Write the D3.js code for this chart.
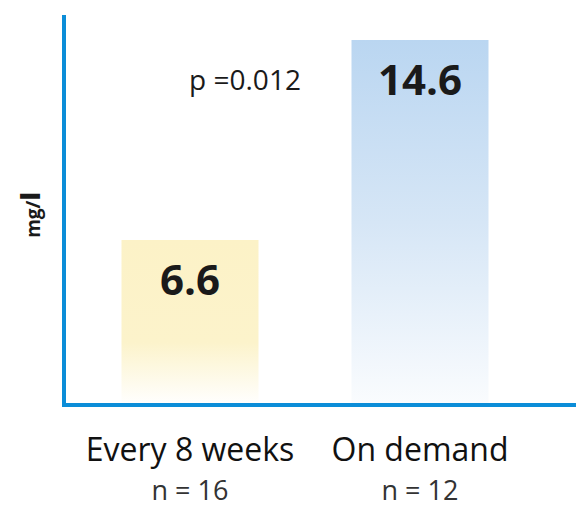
<!DOCTYPE html>
<html>
<head>
<meta charset="utf-8">
<script src="https://cdn.jsdelivr.net/npm/d3@7"></script>
<style>
  body { margin: 0; background: #fff; }
  text { font-family: "Open Sans", sans-serif; fill: #1a1a1a; }
</style>
</head>
<body>
<svg id="chart"></svg>
<script>
const categories = ["Every 8 weeks", "On demand"];
const sizes = ["n = 16", "n = 12"];
const values = [6.6, 14.6];
const valueLabels = ["6.6", "14.6"];
const pLabel = "p =0.012";

const width = 576, height = 507;
const base = 405;

const svg = d3.select("#chart")
    .attr("width", width)
    .attr("height", height);

const defs = svg.append("defs");
const yellow = defs.append("linearGradient").attr("id", "g0")
    .attr("x1", 0).attr("y1", 0).attr("x2", 0).attr("y2", 1);
yellow.append("stop").attr("offset", "0%").attr("stop-color", "#fcf2c7");
yellow.append("stop").attr("offset", "62%").attr("stop-color", "#fcf3cb");
yellow.append("stop").attr("offset", "100%").attr("stop-color", "#ffffff");

const blue = defs.append("linearGradient").attr("id", "g1")
    .attr("x1", 0).attr("y1", 0).attr("x2", 0).attr("y2", 1);
blue.append("stop").attr("offset", "0%").attr("stop-color", "#bad6f1");
blue.append("stop").attr("offset", "50%").attr("stop-color", "#d6e6f6");
blue.append("stop").attr("offset", "100%").attr("stop-color", "#fafcfe");

const x = d3.scalePoint()
    .domain(categories)
    .range([75, 535])
    .padding(0.5);

const y = d3.scaleLinear()
    .domain([0, 14.6])
    .range([base, 40]);

const barW = 137;

svg.selectAll(".bar")
    .data(values)
    .enter().append("rect")
    .attr("class", "bar")
    .attr("x", (d, i) => x(categories[i]) - barW / 2)
    .attr("y", d => y(d))
    .attr("width", barW)
    .attr("height", d => base - y(d))
    .attr("fill", (d, i) => "url(#g" + i + ")");

svg.selectAll(".val")
    .data(values)
    .enter().append("text")
    .attr("class", "val")
    .attr("x", (d, i) => x(categories[i]))
    .attr("y", d => y(d) + 55)
    .attr("text-anchor", "middle")
    .style("font-size", "42px")
    .style("font-weight", "700")
    .text((d, i) => valueLabels[i]);

// axes
const xAxis = d3.axisBottom(x).tickSize(0).tickFormat("");
svg.append("g")
    .attr("transform", "translate(0," + base + ")")
    .call(xAxis)
    .call(g => g.select(".domain")
        .attr("d", "M62,0H576")
        .attr("stroke", "#0b8dd8")
        .attr("stroke-width", 4));

const yAxis = d3.axisLeft(y).tickSize(0).tickFormat("");
svg.append("g")
    .attr("transform", "translate(64,0)")
    .call(yAxis)
    .call(g => g.select(".domain")
        .attr("d", "M0,15V" + (base + 2))
        .attr("stroke", "#0b8dd8")
        .attr("stroke-width", 4));

svg.append("text")
    .attr("x", 245)
    .attr("y", 90)
    .attr("text-anchor", "middle")
    .style("font-size", "28px")
    .text(pLabel);

svg.selectAll(".cat")
    .data(categories)
    .enter().append("text")
    .attr("class", "cat")
    .attr("x", d => x(d))
    .attr("y", 461)
    .attr("text-anchor", "middle")
    .style("font-size", "32px")
    .style("font-weight", "500")
    .style("fill", "#111")
    .text(d => d);

svg.selectAll(".n")
    .data(sizes)
    .enter().append("text")
    .attr("class", "n")
    .attr("x", (d, i) => x(categories[i]))
    .attr("y", 500)
    .attr("text-anchor", "middle")
    .style("font-size", "27px")
    .style("fill", "#333")
    .text(d => d);

const yl = svg.append("text")
    .attr("transform", "translate(40,215) rotate(-90)")
    .attr("text-anchor", "middle")
    .style("font-size", "19px")
    .style("font-weight", "700");
yl.append("tspan").text("mg/");
yl.append("tspan").style("font-size", "26px").style("font-weight", "900").text("l");
</script>
</body>
</html>
